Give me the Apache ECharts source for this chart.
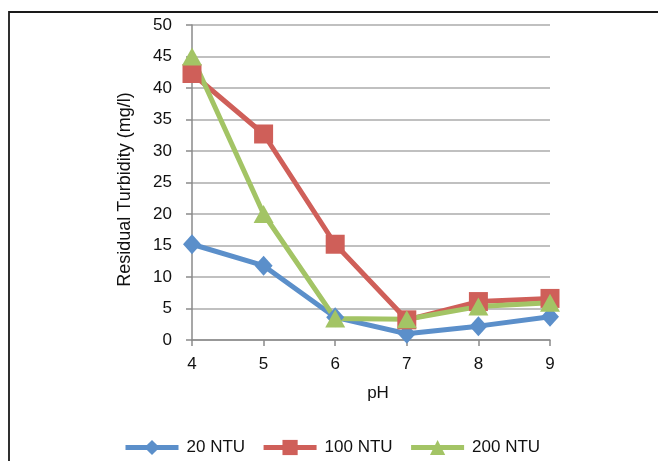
<!DOCTYPE html>
<html>
<head>
<meta charset="utf-8">
<script src="https://cdn.jsdelivr.net/npm/echarts@6/dist/echarts.min.js"></script>
<style>
  html, body { margin: 0; padding: 0; background: #ffffff; }
  #chart { width: 658px; height: 461px; }
</style>
</head>
<body>
<div id="chart"></div>
<script>
// pH values on the horizontal axis
const phValues = ['4', '5', '6', '7', '8', '9'];

// Residual turbidity (mg/l) for each initial turbidity
const ntu20 = [15.2, 11.8, 3.6, 1.0, 2.2, 3.7];
const ntu100 = [42.3, 32.7, 15.2, 3.2, 6.1, 6.6];
const ntu200 = [45.0, 20.0, 3.4, 3.3, 5.3, 5.9];

const seriesNames = ['20 NTU', '100 NTU', '200 NTU'];
const yTicks = { min: 0, max: 50, interval: 5 };

const colors = ['#5B8FCA', '#CF5F59', '#A3C465'];
const font = 'Liberation Sans, Arial, Helvetica, sans-serif';

const chart = echarts.init(document.getElementById('chart'), null, { renderer: 'canvas' });

function lineSeries(name, data, symbol, size, color) {
  return {
    name: name,
    type: 'line',
    data: data,
    symbol: symbol,
    symbolSize: size,
    showAllSymbol: true,
    lineStyle: { width: 5, color: color },
    itemStyle: { color: color },
    emphasis: { disabled: true },
    z: 3
  };
}

chart.setOption({
  animation: false,
  backgroundColor: '#ffffff',
  color: colors,
  graphic: [{
    type: 'rect',
    shape: { x: 9, y: 12, width: 700, height: 500 },
    style: { fill: 'none', stroke: '#1a1a1a', lineWidth: 1.8 },
    silent: true,
    z: -1
  }],
  grid: { left: 192, right: 108, top: 25, bottom: 121, containLabel: false },
  legend: {
    data: seriesNames,
    left: 118,
    top: 434,
    itemWidth: 53,
    itemHeight: 19,
    itemGap: 16,
    lineStyle: { width: 5 },
    textStyle: { fontFamily: font, fontSize: 17, color: '#111', padding: [0, 0, 0, 3] }
  },
  xAxis: {
    type: 'category',
    data: phValues,
    boundaryGap: false,
    name: 'pH',
    nameLocation: 'middle',
    nameGap: 45,
    nameTextStyle: { fontFamily: font, fontSize: 17, color: '#111', padding: [0, 0, 0, 14] },
    axisLine: { lineStyle: { color: '#8a8a8a', width: 1.5 } },
    axisTick: { show: true, length: 6, alignWithLabel: true, lineStyle: { color: '#8a8a8a', width: 1.5 } },
    axisLabel: { fontFamily: font, fontSize: 17, color: '#111', margin: 16 },
    splitLine: { show: false }
  },
  yAxis: {
    type: 'value',
    min: yTicks.min,
    max: yTicks.max,
    interval: yTicks.interval,
    name: 'Residual Turbidity (mg/l)',
    nameLocation: 'middle',
    nameGap: 58,
    nameRotate: 90,
    nameTextStyle: { fontFamily: font, fontSize: 18, color: '#111', padding: [0, 14, 0, 0] },
    axisLine: { show: true, lineStyle: { color: '#8a8a8a', width: 1.5 } },
    axisTick: { show: true, length: 6, lineStyle: { color: '#8a8a8a', width: 1.5 } },
    axisLabel: { fontFamily: font, fontSize: 17, color: '#111', margin: 20 },
    splitLine: { show: true, lineStyle: { color: '#ababab', width: 1.5 } }
  },
  series: [
    lineSeries(seriesNames[0], ntu20, 'diamond', [18, 20], colors[0]),
    lineSeries(seriesNames[1], ntu100, 'rect', 19, colors[1]),
    lineSeries(seriesNames[2], ntu200, 'triangle', [20, 18], colors[2])
  ]
});
</script>
</body>
</html>
